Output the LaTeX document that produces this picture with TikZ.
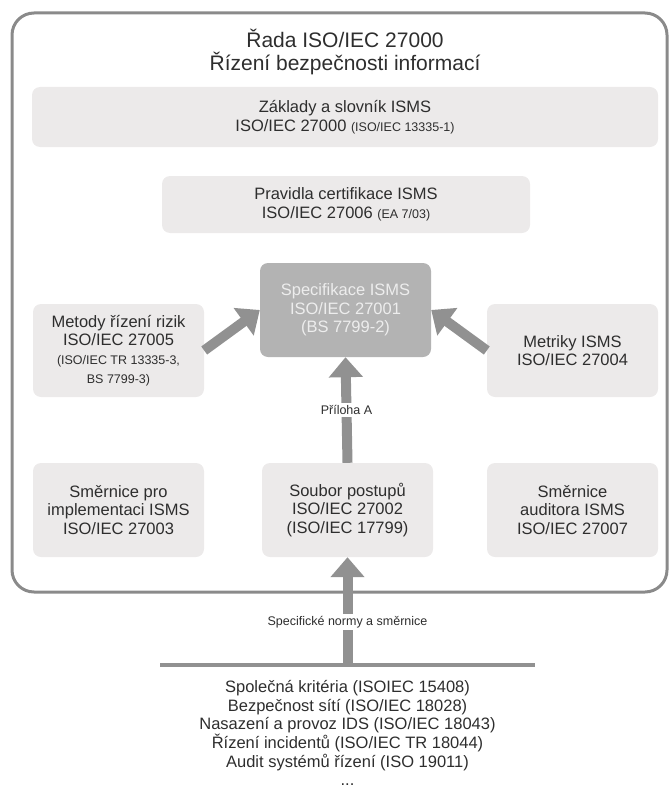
\documentclass[tikz,border=0pt]{standalone}
\usepackage{fontspec}
\setmainfont{Liberation Sans}
\usepackage{tikz}
\usetikzlibrary{arrows.meta,positioning}
\definecolor{ramec}{HTML}{8A8A8A}
\definecolor{svetla}{HTML}{ECEAEA}
\definecolor{tmava}{HTML}{B3B3B3}
\definecolor{sipkac}{HTML}{919191}
\definecolor{pismoc}{HTML}{2E2E2E}
\newcommand{\velke}{\fontsize{21}{23.5}\selectfont}
\newcommand{\stredni}{\fontsize{16.5}{18.7}\selectfont}
\newcommand{\male}{\fontsize{12.5}{12.5}\selectfont}

\begin{document}
\begin{tikzpicture}[x=1pt,y=-1pt,
    blok/.style={fill=svetla,rounded corners=8pt,align=center,font=\stredni,text=pismoc,inner sep=0pt},
    sipka/.style={draw=sipkac,line width=10pt,-{Triangle[width=33pt,length=20pt]}},
    popis/.style={fill=white,font=\male,text=pismoc,inner sep=2pt}]
    \useasboundingbox (0,0) rectangle (671,789);
    % ramec cele rady
    \draw[ramec,line width=3pt,rounded corners=22pt] (12,13) rectangle (667,592);
    \node[align=center,font=\velke,text=pismoc] (nadpis) at (345,52)
      {Řada ISO/IEC 27000\\Řízení bezpečnosti informací};
    % horni bloky
    \node[blok,minimum width=626pt,minimum height=60pt] (zaklady) at (345,117)
      {Základy a slovník ISMS\\ISO/IEC 27000 {\male (ISO/IEC 13335-1)}};
    \node[blok,minimum width=368pt,minimum height=57pt] (pravidla) at (346,204.5)
      {Pravidla certifikace ISMS\\ISO/IEC 27006 {\male (EA 7/03)}};
    % stredni rada
    \node[blok,fill=tmava,text=white!93!black,minimum width=171pt,minimum height=94pt] (spec) at (345.5,310)
      {Specifikace ISMS\\ISO/IEC 27001\\(BS 7799-2)};
    \node[blok,minimum width=171pt,minimum height=93pt] (metody) at (118.5,350.5)
      {Metody řízení rizik\\ISO/IEC 27005\\{\male (ISO/IEC TR 13335-3,}\\{\male BS 7799-3)}};
    \node[blok,minimum width=171pt,minimum height=93pt] (metriky) at (572.5,350.5)
      {Metriky ISMS\\ISO/IEC 27004};
    % spodni rada
    \node[blok,minimum width=171pt,minimum height=94pt] (smernice) at (118.5,510)
      {Směrnice pro\\implementaci ISMS\\ISO/IEC 27003};
    \node[blok,minimum width=171pt,minimum height=94pt] (soubor) at (347.5,510)
      {Soubor postupů\\ISO/IEC 27002\\(ISO/IEC 17799)};
    \node[blok,minimum width=171pt,minimum height=94pt] (auditor) at (572.5,510)
      {Směrnice\\auditora ISMS\\ISO/IEC 27007};
    % sipky
    \draw[sipka] (metody.east) -- (spec.west);
    \draw[sipka] (metriky.west) -- (spec.east);
    \draw[sipka] (soubor.north) -- (spec.south) node[popis,midway] {Příloha A};
    % specificke normy
    \coordinate (carl) at (160,665);
    \coordinate (carp) at (535,665);
    \coordinate (spoj) at (347.5,665);
    \draw[draw=sipkac,line width=4pt] (carl) -- (carp);
    \draw[sipka] (spoj) -- (soubor.south) node[popis,pos=0.4] {Specifické normy a směrnice};
    \node[below=15pt of spoj,align=center,font=\stredni,text=pismoc,inner sep=0pt] (normy)
      {Společná kritéria (ISOIEC 15408)\\Bezpečnost sítí (ISO/IEC 18028)\\Nasazení a provoz IDS (ISO/IEC 18043)\\Řízení incidentů (ISO/IEC TR 18044)\\Audit systémů řízení (ISO 19011)\\...};
\end{tikzpicture}
\end{document}
